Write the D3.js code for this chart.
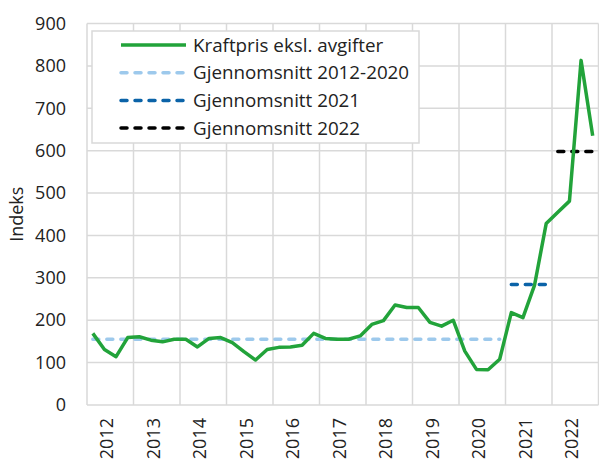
<!DOCTYPE html>
<html>
<head>
<meta charset="utf-8">
<script src="https://cdn.jsdelivr.net/npm/d3@7"></script>
<style>
body{margin:0;background:#fff;}
svg text{font-family:"Open Sans",sans-serif;fill:#222;}
</style>
</head>
<body>
<div id="chart"></div>
<script>
// data
var years = ["2012","2013","2014","2015","2016","2017","2018","2019","2020","2021","2022"];
var yTicks = [0,100,200,300,400,500,600,700,800,900];
// kvartalsvis indeks
var price = [169,131,114,159, 161,153,149,155, 155,137,157,159, 147,126,106,131,
	136,137,141,169, 157,155,155,163, 190,199,236,230, 230,195,186,200,
	127,84,83,108, 218,206,283,428, 455,481,813,635];
var avgNames = ["Gjennomsnitt 2012-2020","Gjennomsnitt 2021","Gjennomsnitt 2022"];
var avgValues = [155,284,598];
var avgFrom = [0,36,40];
var avgTo = [35,39,43];
var lineName = "Kraftpris eksl. avgifter";

var W = 599, H = 462;
// (window.top is reserved, so plotTop)
var plotLeft = 87, plotRight = 598.5, plotTop = 23.5, plotBottom = 405;

var svg = d3.select("#chart").append("svg").attr("width",W).attr("height",H);

var y = d3.scaleLinear().domain([0,900]).range([plotBottom,plotTop]);
var xYear = d3.scaleBand().domain(years).range([plotLeft,plotRight]);
var xq = d3.scaleLinear().domain([0,price.length]).range([plotLeft,plotRight]);

//grid
svg.append("g").selectAll("line").data(yTicks).enter().append("line")
	.attr("x1",plotLeft).attr("x2",plotRight)
	.attr("y1",function(d){return y(d);}).attr("y2",function(d){return y(d);})
	.attr("stroke","#d9d9d9").attr("stroke-width",1.5);
svg.append("g").selectAll("line").data(years.concat(["end"])).enter().append("line")
	.attr("x1",function(d,i){return plotLeft+i*xYear.bandwidth();})
	.attr("x2",function(d,i){return plotLeft+i*xYear.bandwidth();})
	.attr("y1",plotTop).attr("y2",plotBottom)
	.attr("stroke","#d9d9d9").attr("stroke-width",1.5);

//y axis labels
var yAxis = d3.axisLeft(y).tickValues(yTicks).tickSize(0).tickPadding(21);
var gy = svg.append("g").attr("transform","translate("+plotLeft+",0)").call(yAxis);
gy.select(".domain").remove();
gy.selectAll("text").style("font-size","18px").style("font-family","Open Sans").attr("fill","#222");

svg.append("text").attr("transform","translate(23,"+((plotTop+plotBottom)/2)+") rotate(-90)")
	.attr("text-anchor","middle").style("font-size","18px").text("Indeks");

//x axis labels
svg.append("g").selectAll("text").data(years).enter().append("text")
	.attr("transform",function(d){
		return "translate("+(xYear(d)+xYear.bandwidth()/2-3.5)+",418) rotate(-90)";
	})
	.attr("text-anchor","end").attr("dy","0.35em")
	.style("font-size","18px").text(function(d){return d;});

//average lines
var avgColors = ["#9dc9ec","#0b63a8","#000000"];
for(i=0;i<avgValues.length;i++){
	svg.append("line")
		.attr("x1",xq(avgFrom[i]+0.5)).attr("x2",xq(avgTo[i]+0.5))
		.attr("y1",y(avgValues[i])).attr("y2",y(avgValues[i]))
		.attr("stroke",avgColors[i]).attr("stroke-width",3.5)
		.attr("stroke-dasharray","6,8").attr("stroke-linecap","round");
};

//price line
var line = d3.line().x(function(d,i){return xq(i+0.5);}).y(function(d){return y(d);});
svg.append("path").datum(price).attr("d",line)
	.attr("fill","none").attr("stroke","#22a33a").attr("stroke-width",3.5)
	.attr("stroke-linejoin","round");

//legend
var leg = svg.append("g");
leg.append("rect").attr("x",92).attr("y",31).attr("width",327).attr("height",112)
	.attr("fill","#fff").attr("stroke","#d9d9d9").attr("stroke-width",1.5);
var legNames = [lineName].concat(avgNames);
var legColors = ["#22a33a"].concat(avgColors);
for(i=0;i<legNames.length;i++){
	var ly = 45+i*27.7;
	var l = leg.append("line").attr("x1",121).attr("x2",186).attr("y1",ly).attr("y2",ly)
		.attr("stroke",legColors[i]).attr("stroke-width",3.5);
	if(i>0){
		l.attr("stroke-dasharray","6,8").attr("stroke-linecap","round");
	}
	leg.append("text").attr("x",193).attr("y",ly).attr("dy","0.35em")
		.style("font-size","18.8px").text(legNames[i]);
};
</script>
</body>
</html>
